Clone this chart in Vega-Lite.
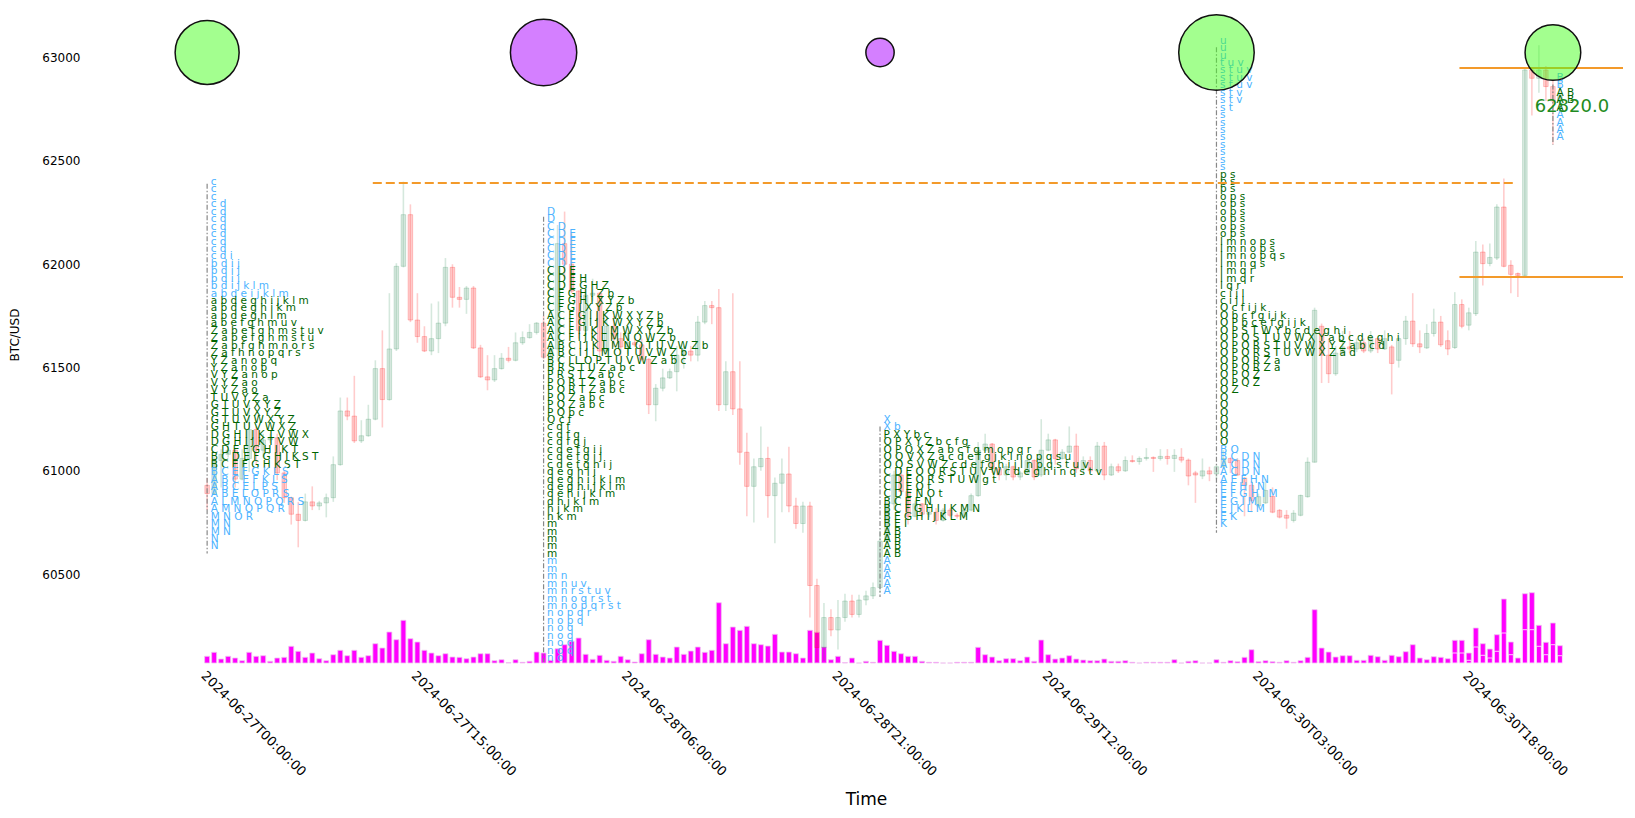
{
"$schema":"https://vega.github.io/schema/vega-lite/v6.json",
"autosize":{"type":"none"},
"width":1524,"height":657,
"padding":{"left":104,"top":6,"right":7,"bottom":155},
"background":"white",
"config":{"view":{"stroke":null},"font":"DejaVu Sans","axis":{"grid":false,"domain":false,"ticks":false,"labelFont":"DejaVu Sans","titleFont":"DejaVu Sans","titleFontWeight":"normal","labelColor":"#000","titleColor":"#000"}},
"datasets":{
"candles":[
{"t":"2024-06-27T00:00Z","o":60930,"h":60965,"l":60810,"c":60890,"v":67},
{"t":"2024-06-27T00:30Z","o":60890,"h":61070,"l":60885,"c":61050,"v":107},
{"t":"2024-06-27T01:00Z","o":61050,"h":61105,"l":60920,"c":61080,"v":40},
{"t":"2024-06-27T01:30Z","o":61080,"h":61180,"l":61065,"c":61100,"v":67},
{"t":"2024-06-27T02:00Z","o":61100,"h":61105,"l":60920,"c":60960,"v":50},
{"t":"2024-06-27T02:30Z","o":60960,"h":61105,"l":60955,"c":61060,"v":23},
{"t":"2024-06-27T03:00Z","o":61060,"h":61320,"l":60995,"c":61200,"v":107},
{"t":"2024-06-27T03:30Z","o":61200,"h":61215,"l":61030,"c":61100,"v":67},
{"t":"2024-06-27T04:00Z","o":61100,"h":61180,"l":61065,"c":61150,"v":73},
{"t":"2024-06-27T04:30Z","o":61150,"h":61180,"l":61135,"c":61160,"v":17},
{"t":"2024-06-27T05:00Z","o":61160,"h":61180,"l":60955,"c":60990,"v":50},
{"t":"2024-06-27T05:30Z","o":60990,"h":61000,"l":60845,"c":60870,"v":57},
{"t":"2024-06-27T06:00Z","o":60870,"h":60875,"l":60740,"c":60790,"v":167},
{"t":"2024-06-27T06:30Z","o":60790,"h":60850,"l":60630,"c":60760,"v":117},
{"t":"2024-06-27T07:00Z","o":60760,"h":60890,"l":60755,"c":60850,"v":57},
{"t":"2024-06-27T07:30Z","o":60850,"h":60925,"l":60810,"c":60830,"v":100},
{"t":"2024-06-27T08:00Z","o":60830,"h":60855,"l":60810,"c":60845,"v":43},
{"t":"2024-06-27T08:30Z","o":60845,"h":60890,"l":60775,"c":60870,"v":23},
{"t":"2024-06-27T09:00Z","o":60870,"h":61070,"l":60850,"c":61030,"v":83},
{"t":"2024-06-27T09:30Z","o":61030,"h":61355,"l":61025,"c":61290,"v":127},
{"t":"2024-06-27T10:00Z","o":61290,"h":61355,"l":61245,"c":61265,"v":73},
{"t":"2024-06-27T10:30Z","o":61265,"h":61460,"l":61135,"c":61145,"v":127},
{"t":"2024-06-27T11:00Z","o":61145,"h":61245,"l":61135,"c":61170,"v":57},
{"t":"2024-06-27T11:30Z","o":61170,"h":61320,"l":61165,"c":61250,"v":73},
{"t":"2024-06-27T12:00Z","o":61250,"h":61535,"l":61245,"c":61495,"v":193},
{"t":"2024-06-27T12:30Z","o":61495,"h":61680,"l":61210,"c":61345,"v":150},
{"t":"2024-06-27T13:00Z","o":61345,"h":61860,"l":61340,"c":61590,"v":310},
{"t":"2024-06-27T13:30Z","o":61590,"h":62005,"l":61580,"c":61990,"v":233},
{"t":"2024-06-27T14:00Z","o":61990,"h":62400,"l":61985,"c":62240,"v":427},
{"t":"2024-06-27T14:30Z","o":62240,"h":62290,"l":61720,"c":61730,"v":243},
{"t":"2024-06-27T15:00Z","o":61730,"h":61860,"l":61620,"c":61650,"v":210},
{"t":"2024-06-27T15:30Z","o":61650,"h":61700,"l":61575,"c":61580,"v":127},
{"t":"2024-06-27T16:00Z","o":61580,"h":61810,"l":61560,"c":61640,"v":100},
{"t":"2024-06-27T16:30Z","o":61640,"h":61820,"l":61570,"c":61715,"v":73},
{"t":"2024-06-27T17:00Z","o":61715,"h":62030,"l":61700,"c":61985,"v":93},
{"t":"2024-06-27T17:30Z","o":61985,"h":62000,"l":61790,"c":61840,"v":60},
{"t":"2024-06-27T18:00Z","o":61840,"h":61890,"l":61790,"c":61830,"v":57},
{"t":"2024-06-27T18:30Z","o":61830,"h":61895,"l":61760,"c":61885,"v":43},
{"t":"2024-06-27T19:00Z","o":61885,"h":61895,"l":61590,"c":61595,"v":60},
{"t":"2024-06-27T19:30Z","o":61595,"h":61610,"l":61450,"c":61455,"v":93},
{"t":"2024-06-27T20:00Z","o":61455,"h":61560,"l":61390,"c":61440,"v":93},
{"t":"2024-06-27T20:30Z","o":61440,"h":61560,"l":61430,"c":61495,"v":23},
{"t":"2024-06-27T21:00Z","o":61495,"h":61570,"l":61490,"c":61545,"v":33},
{"t":"2024-06-27T21:30Z","o":61545,"h":61600,"l":61525,"c":61535,"v":3},
{"t":"2024-06-27T22:00Z","o":61535,"h":61670,"l":61530,"c":61620,"v":33},
{"t":"2024-06-27T22:30Z","o":61620,"h":61675,"l":61610,"c":61645,"v":7},
{"t":"2024-06-27T23:00Z","o":61645,"h":61710,"l":61640,"c":61670,"v":17},
{"t":"2024-06-27T23:30Z","o":61670,"h":61720,"l":61660,"c":61715,"v":110},
{"t":"2024-06-28T00:00Z","o":61715,"h":61750,"l":61540,"c":61550,"v":100},
{"t":"2024-06-28T00:30Z","o":61550,"h":61610,"l":61490,"c":61590,"v":27},
{"t":"2024-06-28T01:00Z","o":61590,"h":62190,"l":61530,"c":62100,"v":143},
{"t":"2024-06-28T01:30Z","o":62100,"h":62255,"l":61930,"c":62000,"v":183},
{"t":"2024-06-28T02:00Z","o":62000,"h":62150,"l":61860,"c":61870,"v":217},
{"t":"2024-06-28T02:30Z","o":61870,"h":61875,"l":61640,"c":61680,"v":250},
{"t":"2024-06-28T03:00Z","o":61680,"h":61890,"l":61675,"c":61850,"v":87},
{"t":"2024-06-28T03:30Z","o":61850,"h":61930,"l":61820,"c":61860,"v":37},
{"t":"2024-06-28T04:00Z","o":61860,"h":61865,"l":61530,"c":61580,"v":77},
{"t":"2024-06-28T04:30Z","o":61580,"h":61750,"l":61565,"c":61700,"v":27},
{"t":"2024-06-28T05:00Z","o":61700,"h":61750,"l":61600,"c":61640,"v":17},
{"t":"2024-06-28T05:30Z","o":61640,"h":61670,"l":61530,"c":61600,"v":67},
{"t":"2024-06-28T06:00Z","o":61600,"h":61670,"l":61565,"c":61620,"v":33},
{"t":"2024-06-28T06:30Z","o":61620,"h":61640,"l":61600,"c":61610,"v":10},
{"t":"2024-06-28T07:00Z","o":61610,"h":61640,"l":61530,"c":61540,"v":93},
{"t":"2024-06-28T07:30Z","o":61540,"h":61545,"l":61275,"c":61320,"v":233},
{"t":"2024-06-28T08:00Z","o":61320,"h":61420,"l":61240,"c":61400,"v":87},
{"t":"2024-06-28T08:30Z","o":61400,"h":61495,"l":61385,"c":61450,"v":60},
{"t":"2024-06-28T09:00Z","o":61450,"h":61495,"l":61445,"c":61480,"v":50},
{"t":"2024-06-28T09:30Z","o":61480,"h":61605,"l":61385,"c":61560,"v":160},
{"t":"2024-06-28T10:00Z","o":61560,"h":61605,"l":61495,"c":61580,"v":87},
{"t":"2024-06-28T10:30Z","o":61580,"h":61605,"l":61530,"c":61560,"v":120},
{"t":"2024-06-28T11:00Z","o":61560,"h":61750,"l":61530,"c":61720,"v":160},
{"t":"2024-06-28T11:30Z","o":61720,"h":61822,"l":61710,"c":61800,"v":107},
{"t":"2024-06-28T12:00Z","o":61800,"h":61822,"l":61710,"c":61790,"v":127},
{"t":"2024-06-28T12:30Z","o":61790,"h":61880,"l":61290,"c":61320,"v":603},
{"t":"2024-06-28T13:00Z","o":61320,"h":61530,"l":61290,"c":61480,"v":193},
{"t":"2024-06-28T13:30Z","o":61480,"h":61860,"l":61270,"c":61300,"v":360},
{"t":"2024-06-28T14:00Z","o":61300,"h":61530,"l":61030,"c":61090,"v":327},
{"t":"2024-06-28T14:30Z","o":61090,"h":61185,"l":60780,"c":60925,"v":367},
{"t":"2024-06-28T15:00Z","o":60925,"h":61060,"l":60750,"c":61020,"v":193},
{"t":"2024-06-28T15:30Z","o":61020,"h":61215,"l":61000,"c":61060,"v":183},
{"t":"2024-06-28T16:00Z","o":61060,"h":61117,"l":60773,"c":60880,"v":170},
{"t":"2024-06-28T16:30Z","o":60880,"h":60968,"l":60650,"c":60940,"v":287},
{"t":"2024-06-28T17:00Z","o":60940,"h":61060,"l":60800,"c":60985,"v":110},
{"t":"2024-06-28T17:30Z","o":60985,"h":61117,"l":60800,"c":60830,"v":110},
{"t":"2024-06-28T18:00Z","o":60830,"h":60870,"l":60720,"c":60745,"v":93},
{"t":"2024-06-28T18:30Z","o":60745,"h":60850,"l":60700,"c":60830,"v":50},
{"t":"2024-06-28T19:00Z","o":60830,"h":60850,"l":60290,"c":60445,"v":327},
{"t":"2024-06-28T19:30Z","o":60445,"h":60478,"l":60075,"c":60145,"v":307},
{"t":"2024-06-28T20:00Z","o":60145,"h":60360,"l":60080,"c":60290,"v":160},
{"t":"2024-06-28T20:30Z","o":60290,"h":60330,"l":60200,"c":60230,"v":33},
{"t":"2024-06-28T21:00Z","o":60230,"h":60375,"l":60135,"c":60290,"v":67},
{"t":"2024-06-28T21:30Z","o":60290,"h":60405,"l":60270,"c":60370,"v":3},
{"t":"2024-06-28T22:00Z","o":60370,"h":60400,"l":60290,"c":60305,"v":50},
{"t":"2024-06-28T22:30Z","o":60305,"h":60400,"l":60290,"c":60375,"v":0},
{"t":"2024-06-28T23:00Z","o":60375,"h":60420,"l":60350,"c":60395,"v":17},
{"t":"2024-06-28T23:30Z","o":60395,"h":60460,"l":60380,"c":60435,"v":7},
{"t":"2024-06-29T00:00Z","o":60435,"h":60710,"l":60410,"c":60660,"v":227},
{"t":"2024-06-29T00:30Z","o":60660,"h":60860,"l":60600,"c":60840,"v":177},
{"t":"2024-06-29T01:00Z","o":60840,"h":61000,"l":60810,"c":60980,"v":117},
{"t":"2024-06-29T01:30Z","o":60980,"h":61000,"l":60880,"c":60900,"v":93},
{"t":"2024-06-29T02:00Z","o":60900,"h":60995,"l":60740,"c":60780,"v":67},
{"t":"2024-06-29T02:30Z","o":60780,"h":60855,"l":60775,"c":60840,"v":67},
{"t":"2024-06-29T03:00Z","o":60840,"h":60845,"l":60775,"c":60790,"v":17},
{"t":"2024-06-29T03:30Z","o":60790,"h":60820,"l":60775,"c":60800,"v":7},
{"t":"2024-06-29T04:00Z","o":60800,"h":60820,"l":60740,"c":60760,"v":7},
{"t":"2024-06-29T04:30Z","o":60760,"h":60820,"l":60755,"c":60810,"v":0},
{"t":"2024-06-29T05:00Z","o":60810,"h":60820,"l":60775,"c":60785,"v":0},
{"t":"2024-06-29T05:30Z","o":60785,"h":60795,"l":60770,"c":60780,"v":7},
{"t":"2024-06-29T06:00Z","o":60780,"h":60820,"l":60775,"c":60810,"v":7},
{"t":"2024-06-29T06:30Z","o":60810,"h":60890,"l":60805,"c":60880,"v":7},
{"t":"2024-06-29T07:00Z","o":60880,"h":61140,"l":60875,"c":61100,"v":157},
{"t":"2024-06-29T07:30Z","o":61100,"h":61180,"l":61095,"c":61130,"v":83},
{"t":"2024-06-29T08:00Z","o":61130,"h":61135,"l":60990,"c":61010,"v":60},
{"t":"2024-06-29T08:30Z","o":61010,"h":61015,"l":60955,"c":60980,"v":23},
{"t":"2024-06-29T09:00Z","o":60980,"h":61035,"l":60955,"c":61020,"v":43},
{"t":"2024-06-29T09:30Z","o":61020,"h":61025,"l":60955,"c":60970,"v":43},
{"t":"2024-06-29T10:00Z","o":60970,"h":61000,"l":60955,"c":60990,"v":23},
{"t":"2024-06-29T10:30Z","o":60990,"h":61070,"l":60985,"c":61050,"v":60},
{"t":"2024-06-29T11:00Z","o":61050,"h":61055,"l":60955,"c":60970,"v":17},
{"t":"2024-06-29T11:30Z","o":60980,"h":61250,"l":60970,"c":61100,"v":230},
{"t":"2024-06-29T12:00Z","o":61100,"h":61180,"l":61095,"c":61150,"v":83},
{"t":"2024-06-29T12:30Z","o":61150,"h":61155,"l":61030,"c":61060,"v":40},
{"t":"2024-06-29T13:00Z","o":61060,"h":61105,"l":61055,"c":61090,"v":50},
{"t":"2024-06-29T13:30Z","o":61090,"h":61215,"l":61085,"c":61120,"v":73},
{"t":"2024-06-29T14:00Z","o":61120,"h":61180,"l":60990,"c":61010,"v":40},
{"t":"2024-06-29T14:30Z","o":61010,"h":61070,"l":60990,"c":61050,"v":30},
{"t":"2024-06-29T15:00Z","o":61050,"h":61070,"l":60990,"c":61000,"v":23},
{"t":"2024-06-29T15:30Z","o":61000,"h":61140,"l":60995,"c":61120,"v":23},
{"t":"2024-06-29T16:00Z","o":61120,"h":61140,"l":60955,"c":60980,"v":40},
{"t":"2024-06-29T16:30Z","o":60980,"h":61035,"l":60975,"c":61020,"v":17},
{"t":"2024-06-29T17:00Z","o":61020,"h":61035,"l":60990,"c":61000,"v":17},
{"t":"2024-06-29T17:30Z","o":61000,"h":61070,"l":60995,"c":61050,"v":23},
{"t":"2024-06-29T18:00Z","o":61050,"h":61075,"l":61040,"c":61045,"v":7},
{"t":"2024-06-29T18:30Z","o":61045,"h":61070,"l":61030,"c":61060,"v":0},
{"t":"2024-06-29T19:00Z","o":61060,"h":61110,"l":61050,"c":61065,"v":7},
{"t":"2024-06-29T19:30Z","o":61065,"h":61070,"l":60995,"c":61060,"v":7},
{"t":"2024-06-29T20:00Z","o":61060,"h":61105,"l":61050,"c":61070,"v":7},
{"t":"2024-06-29T20:30Z","o":61070,"h":61105,"l":61030,"c":61060,"v":7},
{"t":"2024-06-29T21:00Z","o":61060,"h":61105,"l":60995,"c":61075,"v":33},
{"t":"2024-06-29T21:30Z","o":61066,"h":61110,"l":61040,"c":61052,"v":0},
{"t":"2024-06-29T22:00Z","o":61052,"h":61060,"l":60930,"c":60975,"v":17},
{"t":"2024-06-29T22:30Z","o":60990,"h":61000,"l":60845,"c":60980,"v":23},
{"t":"2024-06-29T23:00Z","o":60975,"h":61060,"l":60960,"c":61000,"v":0},
{"t":"2024-06-29T23:30Z","o":61000,"h":61020,"l":60950,"c":60985,"v":0},
{"t":"2024-06-30T00:00Z","o":60985,"h":61030,"l":60960,"c":61020,"v":33},
{"t":"2024-06-30T00:30Z","o":61020,"h":61100,"l":61015,"c":61060,"v":7},
{"t":"2024-06-30T01:00Z","o":61060,"h":61065,"l":60990,"c":61040,"v":23},
{"t":"2024-06-30T01:30Z","o":61050,"h":61060,"l":60975,"c":60980,"v":13},
{"t":"2024-06-30T02:00Z","o":60965,"h":60970,"l":60780,"c":60930,"v":57},
{"t":"2024-06-30T02:30Z","o":60930,"h":60950,"l":60800,"c":60855,"v":133},
{"t":"2024-06-30T03:00Z","o":60830,"h":60890,"l":60820,"c":60875,"v":13},
{"t":"2024-06-30T03:30Z","o":60845,"h":60960,"l":60840,"c":60905,"v":23},
{"t":"2024-06-30T04:00Z","o":60876,"h":60920,"l":60795,"c":60800,"v":13},
{"t":"2024-06-30T04:30Z","o":60809,"h":60815,"l":60770,"c":60776,"v":7},
{"t":"2024-06-30T05:00Z","o":60785,"h":60810,"l":60720,"c":60771,"v":23},
{"t":"2024-06-30T05:30Z","o":60760,"h":60810,"l":60750,"c":60795,"v":7},
{"t":"2024-06-30T06:00Z","o":60785,"h":60885,"l":60780,"c":60881,"v":23},
{"t":"2024-06-30T06:30Z","o":60875,"h":61065,"l":60870,"c":61042,"v":57},
{"t":"2024-06-30T07:00Z","o":61042,"h":61790,"l":61040,"c":61777,"v":533},
{"t":"2024-06-30T07:30Z","o":61700,"h":61713,"l":61425,"c":61560,"v":150},
{"t":"2024-06-30T08:00Z","o":61560,"h":61640,"l":61425,"c":61470,"v":110},
{"t":"2024-06-30T08:30Z","o":61470,"h":61605,"l":61460,"c":61570,"v":60},
{"t":"2024-06-30T09:00Z","o":61570,"h":61677,"l":61560,"c":61600,"v":73},
{"t":"2024-06-30T09:30Z","o":61600,"h":61677,"l":61570,"c":61590,"v":73},
{"t":"2024-06-30T10:00Z","o":61590,"h":61641,"l":61575,"c":61620,"v":27},
{"t":"2024-06-30T10:30Z","o":61620,"h":61641,"l":61570,"c":61580,"v":27},
{"t":"2024-06-30T11:00Z","o":61580,"h":61677,"l":61570,"c":61640,"v":77},
{"t":"2024-06-30T11:30Z","o":61640,"h":61645,"l":61570,"c":61590,"v":63},
{"t":"2024-06-30T12:00Z","o":61590,"h":61680,"l":61585,"c":61640,"v":27},
{"t":"2024-06-30T12:30Z","o":61600,"h":61610,"l":61370,"c":61520,"v":77},
{"t":"2024-06-30T13:00Z","o":61535,"h":61645,"l":61500,"c":61640,"v":63},
{"t":"2024-06-30T13:30Z","o":61640,"h":61750,"l":61610,"c":61725,"v":113},
{"t":"2024-06-30T14:00Z","o":61725,"h":61860,"l":61600,"c":61615,"v":183},
{"t":"2024-06-30T14:30Z","o":61615,"h":61680,"l":61570,"c":61600,"v":50},
{"t":"2024-06-30T15:00Z","o":61595,"h":61710,"l":61590,"c":61665,"v":33},
{"t":"2024-06-30T15:30Z","o":61665,"h":61785,"l":61650,"c":61720,"v":63},
{"t":"2024-06-30T16:00Z","o":61720,"h":61750,"l":61600,"c":61610,"v":57},
{"t":"2024-06-30T16:30Z","o":61630,"h":61680,"l":61560,"c":61590,"v":43},
{"t":"2024-06-30T17:00Z","o":61597,"h":61865,"l":61590,"c":61805,"v":227,"v2":100},
{"t":"2024-06-30T17:30Z","o":61805,"h":61830,"l":61690,"c":61700,"v":227,"v2":100},
{"t":"2024-06-30T18:00Z","o":61705,"h":61790,"l":61680,"c":61765,"v":100,"v2":27},
{"t":"2024-06-30T18:30Z","o":61761,"h":62112,"l":61750,"c":62059,"v":350,"v2":160},
{"t":"2024-06-30T19:00Z","o":62059,"h":62096,"l":61897,"c":62003,"v":193,"v2":77},
{"t":"2024-06-30T19:30Z","o":62004,"h":62100,"l":61990,"c":62033,"v":140,"v2":50},
{"t":"2024-06-30T20:00Z","o":62030,"h":62290,"l":62020,"c":62277,"v":283,"v2":117},
{"t":"2024-06-30T20:30Z","o":62277,"h":62415,"l":61985,"c":61990,"v":640,"v2":300},
{"t":"2024-06-30T21:00Z","o":61995,"h":62019,"l":61860,"c":61951,"v":210,"v2":83},
{"t":"2024-06-30T21:30Z","o":61955,"h":61960,"l":61841,"c":61946,"v":50},
{"t":"2024-06-30T22:00Z","o":61946,"h":62955,"l":61940,"c":62940,"v":693,"v2":333},
{"t":"2024-06-30T22:30Z","o":62940,"h":62950,"l":62720,"c":62900,"v":703,"v2":333},
{"t":"2024-06-30T23:00Z","o":62900,"h":63060,"l":62830,"c":62940,"v":377,"v2":167},
{"t":"2024-06-30T23:30Z","o":62940,"h":62960,"l":62790,"c":62860,"v":207,"v2":83},
{"t":"2024-07-01T00:00Z","o":62860,"h":62890,"l":62580,"c":62790,"v":400,"v2":183},
{"t":"2024-07-01T00:30Z","o":62790,"h":62910,"l":62785,"c":62820,"v":173,"v2":73}
],
"tpo":[
{"t":"2024-06-27T00:00Z","p":62398,"s":"c","a":"out"},
{"t":"2024-06-27T00:00Z","p":62362,"s":"c","a":"out"},
{"t":"2024-06-27T00:00Z","p":62326,"s":"c","a":"out"},
{"t":"2024-06-27T00:00Z","p":62290,"s":"c d","a":"out"},
{"t":"2024-06-27T00:00Z","p":62254,"s":"c d","a":"out"},
{"t":"2024-06-27T00:00Z","p":62218,"s":"c d","a":"out"},
{"t":"2024-06-27T00:00Z","p":62182,"s":"c d","a":"out"},
{"t":"2024-06-27T00:00Z","p":62146,"s":"c d","a":"out"},
{"t":"2024-06-27T00:00Z","p":62110,"s":"c d","a":"out"},
{"t":"2024-06-27T00:00Z","p":62074,"s":"c d","a":"out"},
{"t":"2024-06-27T00:00Z","p":62038,"s":"c d i","a":"out"},
{"t":"2024-06-27T00:00Z","p":62002,"s":"b d i j","a":"out"},
{"t":"2024-06-27T00:00Z","p":61966,"s":"b d i j","a":"out"},
{"t":"2024-06-27T00:00Z","p":61930,"s":"b d i j","a":"out"},
{"t":"2024-06-27T00:00Z","p":61894,"s":"b d i j k l m","a":"out"},
{"t":"2024-06-27T00:00Z","p":61858,"s":"a b d e i j k l m","a":"out"},
{"t":"2024-06-27T00:00Z","p":61822,"s":"a b d e g h i j k l m","a":"in"},
{"t":"2024-06-27T00:00Z","p":61786,"s":"a b d e g h i k m","a":"in"},
{"t":"2024-06-27T00:00Z","p":61750,"s":"a b d e g h l m","a":"in"},
{"t":"2024-06-27T00:00Z","p":61714,"s":"a b e f g h m u v","a":"in"},
{"t":"2024-06-27T00:00Z","p":61678,"s":"Z a b e f g h m s t u v","a":"in"},
{"t":"2024-06-27T00:00Z","p":61642,"s":"Z a b e f g h m s t u","a":"in"},
{"t":"2024-06-27T00:00Z","p":61606,"s":"Z a b f g h m n o r s","a":"in"},
{"t":"2024-06-27T00:00Z","p":61570,"s":"Z a f h n o p q r s","a":"in"},
{"t":"2024-06-27T00:00Z","p":61534,"s":"Y Z a n o p q","a":"in"},
{"t":"2024-06-27T00:00Z","p":61498,"s":"Y Z a n o p","a":"in"},
{"t":"2024-06-27T00:00Z","p":61462,"s":"V Y Z a n o p","a":"in"},
{"t":"2024-06-27T00:00Z","p":61426,"s":"V Y Z a o","a":"in"},
{"t":"2024-06-27T00:00Z","p":61390,"s":"V Y Z a o","a":"in"},
{"t":"2024-06-27T00:00Z","p":61354,"s":"T U V Y Z a","a":"in"},
{"t":"2024-06-27T00:00Z","p":61318,"s":"G T U V X Y Z","a":"in"},
{"t":"2024-06-27T00:00Z","p":61282,"s":"G T U V X Y Z","a":"in"},
{"t":"2024-06-27T00:00Z","p":61246,"s":"G T U V W X Y Z","a":"in"},
{"t":"2024-06-27T00:00Z","p":61210,"s":"G H T U V W X Z","a":"in"},
{"t":"2024-06-27T00:00Z","p":61174,"s":"D G H I J K T V W X","a":"in"},
{"t":"2024-06-27T00:00Z","p":61138,"s":"D G H I J K T V W","a":"in"},
{"t":"2024-06-27T00:00Z","p":61102,"s":"C D E F G H I K T","a":"in"},
{"t":"2024-06-27T00:00Z","p":61066,"s":"B C D E F G H I K S T","a":"in"},
{"t":"2024-06-27T00:00Z","p":61030,"s":"B C E F G H K S T","a":"in"},
{"t":"2024-06-27T00:00Z","p":60994,"s":"B C E F G K L S","a":"out"},
{"t":"2024-06-27T00:00Z","p":60958,"s":"A B C E F K L S","a":"out"},
{"t":"2024-06-27T00:00Z","p":60922,"s":"A B C E L P S","a":"out"},
{"t":"2024-06-27T00:00Z","p":60886,"s":"A B E L O P R S","a":"out"},
{"t":"2024-06-27T00:00Z","p":60850,"s":"A L M N O P Q R S","a":"out"},
{"t":"2024-06-27T00:00Z","p":60814,"s":"A M N O P Q R","a":"out"},
{"t":"2024-06-27T00:00Z","p":60778,"s":"M N O R","a":"out"},
{"t":"2024-06-27T00:00Z","p":60742,"s":"M N","a":"out"},
{"t":"2024-06-27T00:00Z","p":60706,"s":"M N","a":"out"},
{"t":"2024-06-27T00:00Z","p":60670,"s":"N","a":"out"},
{"t":"2024-06-27T00:00Z","p":60634,"s":"N","a":"out"},
{"t":"2024-06-28T00:00Z","p":62254,"s":"D","a":"out"},
{"t":"2024-06-28T00:00Z","p":62218,"s":"D","a":"out"},
{"t":"2024-06-28T00:00Z","p":62182,"s":"C D","a":"out"},
{"t":"2024-06-28T00:00Z","p":62146,"s":"C D E","a":"out"},
{"t":"2024-06-28T00:00Z","p":62110,"s":"C D E","a":"out"},
{"t":"2024-06-28T00:00Z","p":62074,"s":"C D E","a":"out"},
{"t":"2024-06-28T00:00Z","p":62038,"s":"C D E","a":"out"},
{"t":"2024-06-28T00:00Z","p":62002,"s":"C D E","a":"out"},
{"t":"2024-06-28T00:00Z","p":61966,"s":"C D E","a":"in"},
{"t":"2024-06-28T00:00Z","p":61930,"s":"C D E H","a":"in"},
{"t":"2024-06-28T00:00Z","p":61894,"s":"C D E G H Z","a":"in"},
{"t":"2024-06-28T00:00Z","p":61858,"s":"C E G H I Z b","a":"in"},
{"t":"2024-06-28T00:00Z","p":61822,"s":"C E G H I X Y Z b","a":"in"},
{"t":"2024-06-28T00:00Z","p":61786,"s":"C F G I X Y Z b","a":"in"},
{"t":"2024-06-28T00:00Z","p":61750,"s":"A C F G I J K W X Y Z b","a":"in"},
{"t":"2024-06-28T00:00Z","p":61714,"s":"A C F G I J K W X Y Z b","a":"in"},
{"t":"2024-06-28T00:00Z","p":61678,"s":"A C F I J K L M W X Y Z b","a":"in"},
{"t":"2024-06-28T00:00Z","p":61642,"s":"A C F I J K L M N O W Z b","a":"in"},
{"t":"2024-06-28T00:00Z","p":61606,"s":"A B C I J K L M N O T U V W Z b","a":"in"},
{"t":"2024-06-28T00:00Z","p":61570,"s":"A B C I J L M O T U V W Z b","a":"in"},
{"t":"2024-06-28T00:00Z","p":61534,"s":"B C I L O P T U V W Z a b c","a":"in"},
{"t":"2024-06-28T00:00Z","p":61498,"s":"B R S T U Z a b c","a":"in"},
{"t":"2024-06-28T00:00Z","p":61462,"s":"P R S T Z a b c","a":"in"},
{"t":"2024-06-28T00:00Z","p":61426,"s":"P Q R T Z a b c","a":"in"},
{"t":"2024-06-28T00:00Z","p":61390,"s":"P Q R T Z a b c","a":"in"},
{"t":"2024-06-28T00:00Z","p":61354,"s":"P Q Z a b c","a":"in"},
{"t":"2024-06-28T00:00Z","p":61318,"s":"P Q Z a b c","a":"in"},
{"t":"2024-06-28T00:00Z","p":61282,"s":"P Q b c","a":"in"},
{"t":"2024-06-28T00:00Z","p":61246,"s":"Q c f","a":"in"},
{"t":"2024-06-28T00:00Z","p":61210,"s":"c d f","a":"in"},
{"t":"2024-06-28T00:00Z","p":61174,"s":"c d f g","a":"in"},
{"t":"2024-06-28T00:00Z","p":61138,"s":"c d f g j","a":"in"},
{"t":"2024-06-28T00:00Z","p":61102,"s":"c d e f g i j","a":"in"},
{"t":"2024-06-28T00:00Z","p":61066,"s":"c d e f g i j","a":"in"},
{"t":"2024-06-28T00:00Z","p":61030,"s":"c d e f g h i j","a":"in"},
{"t":"2024-06-28T00:00Z","p":60994,"s":"d e g h i j","a":"in"},
{"t":"2024-06-28T00:00Z","p":60958,"s":"d e g h i j k l m","a":"in"},
{"t":"2024-06-28T00:00Z","p":60922,"s":"d e g h i j k l m","a":"in"},
{"t":"2024-06-28T00:00Z","p":60886,"s":"d e h i j k l m","a":"in"},
{"t":"2024-06-28T00:00Z","p":60850,"s":"d h j k l m","a":"in"},
{"t":"2024-06-28T00:00Z","p":60814,"s":"h j k m","a":"in"},
{"t":"2024-06-28T00:00Z","p":60778,"s":"h k m","a":"in"},
{"t":"2024-06-28T00:00Z","p":60742,"s":"m","a":"in"},
{"t":"2024-06-28T00:00Z","p":60706,"s":"m","a":"in"},
{"t":"2024-06-28T00:00Z","p":60670,"s":"m","a":"in"},
{"t":"2024-06-28T00:00Z","p":60634,"s":"m","a":"in"},
{"t":"2024-06-28T00:00Z","p":60598,"s":"m","a":"in"},
{"t":"2024-06-28T00:00Z","p":60562,"s":"m","a":"out"},
{"t":"2024-06-28T00:00Z","p":60526,"s":"m","a":"out"},
{"t":"2024-06-28T00:00Z","p":60490,"s":"m n","a":"out"},
{"t":"2024-06-28T00:00Z","p":60454,"s":"m n u v","a":"out"},
{"t":"2024-06-28T00:00Z","p":60418,"s":"m n r s t u v","a":"out"},
{"t":"2024-06-28T00:00Z","p":60382,"s":"m n o q r s t","a":"out"},
{"t":"2024-06-28T00:00Z","p":60346,"s":"m n o p q r s t","a":"out"},
{"t":"2024-06-28T00:00Z","p":60310,"s":"n o p q r","a":"out"},
{"t":"2024-06-28T00:00Z","p":60274,"s":"n o p q","a":"out"},
{"t":"2024-06-28T00:00Z","p":60238,"s":"n o q","a":"out"},
{"t":"2024-06-28T00:00Z","p":60202,"s":"n o q","a":"out"},
{"t":"2024-06-28T00:00Z","p":60166,"s":"n o q","a":"out"},
{"t":"2024-06-28T00:00Z","p":60130,"s":"n o q","a":"out"},
{"t":"2024-06-28T00:00Z","p":60094,"s":"n o","a":"out"},
{"t":"2024-06-29T00:00Z","p":61246,"s":"X","a":"out"},
{"t":"2024-06-29T00:00Z","p":61210,"s":"X b","a":"out"},
{"t":"2024-06-29T00:00Z","p":61174,"s":"P X Y b c","a":"in"},
{"t":"2024-06-29T00:00Z","p":61138,"s":"O P X Y Z b c f g","a":"in"},
{"t":"2024-06-29T00:00Z","p":61102,"s":"O P Q X Z a b c f g m o p q r","a":"in"},
{"t":"2024-06-29T00:00Z","p":61066,"s":"O Q V X Z a c d e f g j k l n o p q s u","a":"in"},
{"t":"2024-06-29T00:00Z","p":61030,"s":"O Q S V W Z c d e f g h i j l n p q s t u v","a":"in"},
{"t":"2024-06-29T00:00Z","p":60994,"s":"C D E O Q R S T U V W c d e g h i n q s t v","a":"in"},
{"t":"2024-06-29T00:00Z","p":60958,"s":"C D E O R S T U W g t","a":"in"},
{"t":"2024-06-29T00:00Z","p":60922,"s":"C D E O t","a":"in"},
{"t":"2024-06-29T00:00Z","p":60886,"s":"C D E N O t","a":"in"},
{"t":"2024-06-29T00:00Z","p":60850,"s":"B C E F N","a":"in"},
{"t":"2024-06-29T00:00Z","p":60814,"s":"B C F G H I J K M N","a":"in"},
{"t":"2024-06-29T00:00Z","p":60778,"s":"B E G H I J K L M","a":"in"},
{"t":"2024-06-29T00:00Z","p":60742,"s":"B E I","a":"in"},
{"t":"2024-06-29T00:00Z","p":60706,"s":"A B","a":"in"},
{"t":"2024-06-29T00:00Z","p":60670,"s":"A B","a":"in"},
{"t":"2024-06-29T00:00Z","p":60634,"s":"A B","a":"in"},
{"t":"2024-06-29T00:00Z","p":60598,"s":"A B","a":"in"},
{"t":"2024-06-29T00:00Z","p":60562,"s":"A","a":"out"},
{"t":"2024-06-29T00:00Z","p":60526,"s":"A","a":"out"},
{"t":"2024-06-29T00:00Z","p":60490,"s":"A","a":"out"},
{"t":"2024-06-29T00:00Z","p":60454,"s":"A","a":"out"},
{"t":"2024-06-29T00:00Z","p":60418,"s":"A","a":"out"},
{"t":"2024-06-30T00:00Z","p":63082,"s":"u","a":"out"},
{"t":"2024-06-30T00:00Z","p":63046,"s":"u","a":"out"},
{"t":"2024-06-30T00:00Z","p":63010,"s":"u","a":"out"},
{"t":"2024-06-30T00:00Z","p":62974,"s":"t u v","a":"out"},
{"t":"2024-06-30T00:00Z","p":62938,"s":"s t u v","a":"out"},
{"t":"2024-06-30T00:00Z","p":62902,"s":"s t u v","a":"out"},
{"t":"2024-06-30T00:00Z","p":62866,"s":"s t u v","a":"out"},
{"t":"2024-06-30T00:00Z","p":62830,"s":"s t v","a":"out"},
{"t":"2024-06-30T00:00Z","p":62794,"s":"s t v","a":"out"},
{"t":"2024-06-30T00:00Z","p":62758,"s":"s t","a":"out"},
{"t":"2024-06-30T00:00Z","p":62722,"s":"s","a":"out"},
{"t":"2024-06-30T00:00Z","p":62686,"s":"s","a":"out"},
{"t":"2024-06-30T00:00Z","p":62650,"s":"s","a":"out"},
{"t":"2024-06-30T00:00Z","p":62614,"s":"s","a":"out"},
{"t":"2024-06-30T00:00Z","p":62578,"s":"s","a":"out"},
{"t":"2024-06-30T00:00Z","p":62542,"s":"s","a":"out"},
{"t":"2024-06-30T00:00Z","p":62506,"s":"s","a":"out"},
{"t":"2024-06-30T00:00Z","p":62470,"s":"s","a":"out"},
{"t":"2024-06-30T00:00Z","p":62434,"s":"p s","a":"in"},
{"t":"2024-06-30T00:00Z","p":62398,"s":"p s","a":"in"},
{"t":"2024-06-30T00:00Z","p":62362,"s":"p s","a":"in"},
{"t":"2024-06-30T00:00Z","p":62326,"s":"o p s","a":"in"},
{"t":"2024-06-30T00:00Z","p":62290,"s":"o p s","a":"in"},
{"t":"2024-06-30T00:00Z","p":62254,"s":"o p s","a":"in"},
{"t":"2024-06-30T00:00Z","p":62218,"s":"o p s","a":"in"},
{"t":"2024-06-30T00:00Z","p":62182,"s":"o p s","a":"in"},
{"t":"2024-06-30T00:00Z","p":62146,"s":"o p s","a":"in"},
{"t":"2024-06-30T00:00Z","p":62110,"s":"l m n o p s","a":"in"},
{"t":"2024-06-30T00:00Z","p":62074,"s":"l m n o p s","a":"in"},
{"t":"2024-06-30T00:00Z","p":62038,"s":"l m n o p q s","a":"in"},
{"t":"2024-06-30T00:00Z","p":62002,"s":"l m n q s","a":"in"},
{"t":"2024-06-30T00:00Z","p":61966,"s":"l m q r","a":"in"},
{"t":"2024-06-30T00:00Z","p":61930,"s":"l m q r","a":"in"},
{"t":"2024-06-30T00:00Z","p":61894,"s":"l q r","a":"in"},
{"t":"2024-06-30T00:00Z","p":61858,"s":"c i j l","a":"in"},
{"t":"2024-06-30T00:00Z","p":61822,"s":"c i j l","a":"in"},
{"t":"2024-06-30T00:00Z","p":61786,"s":"O c f i j k","a":"in"},
{"t":"2024-06-30T00:00Z","p":61750,"s":"O b c f g i j k","a":"in"},
{"t":"2024-06-30T00:00Z","p":61714,"s":"O P b c e f g i j k","a":"in"},
{"t":"2024-06-30T00:00Z","p":61678,"s":"O P S T W Y b c d e g h i","a":"in"},
{"t":"2024-06-30T00:00Z","p":61642,"s":"O P Q S T U V W X Y a b c d e g h i","a":"in"},
{"t":"2024-06-30T00:00Z","p":61606,"s":"O P Q R S T U V W X Y Z a b c d","a":"in"},
{"t":"2024-06-30T00:00Z","p":61570,"s":"O P Q R S T U V W X Z a d","a":"in"},
{"t":"2024-06-30T00:00Z","p":61534,"s":"O P Q R Z a","a":"in"},
{"t":"2024-06-30T00:00Z","p":61498,"s":"O P Q R Z a","a":"in"},
{"t":"2024-06-30T00:00Z","p":61462,"s":"O P Q Z","a":"in"},
{"t":"2024-06-30T00:00Z","p":61426,"s":"O P Q Z","a":"in"},
{"t":"2024-06-30T00:00Z","p":61390,"s":"O Z","a":"in"},
{"t":"2024-06-30T00:00Z","p":61354,"s":"O","a":"in"},
{"t":"2024-06-30T00:00Z","p":61318,"s":"O","a":"in"},
{"t":"2024-06-30T00:00Z","p":61282,"s":"O","a":"in"},
{"t":"2024-06-30T00:00Z","p":61246,"s":"O","a":"in"},
{"t":"2024-06-30T00:00Z","p":61210,"s":"O","a":"in"},
{"t":"2024-06-30T00:00Z","p":61174,"s":"O","a":"in"},
{"t":"2024-06-30T00:00Z","p":61138,"s":"O","a":"in"},
{"t":"2024-06-30T00:00Z","p":61102,"s":"B O","a":"out"},
{"t":"2024-06-30T00:00Z","p":61066,"s":"B C D N","a":"out"},
{"t":"2024-06-30T00:00Z","p":61030,"s":"A C D N","a":"out"},
{"t":"2024-06-30T00:00Z","p":60994,"s":"A C D N","a":"out"},
{"t":"2024-06-30T00:00Z","p":60958,"s":"A E F H N","a":"out"},
{"t":"2024-06-30T00:00Z","p":60922,"s":"E F H I N","a":"out"},
{"t":"2024-06-30T00:00Z","p":60886,"s":"E F G H I M","a":"out"},
{"t":"2024-06-30T00:00Z","p":60850,"s":"E G I M","a":"out"},
{"t":"2024-06-30T00:00Z","p":60814,"s":"E J K L M","a":"out"},
{"t":"2024-06-30T00:00Z","p":60778,"s":"E K","a":"out"},
{"t":"2024-06-30T00:00Z","p":60742,"s":"K","a":"out"},
{"t":"2024-07-01T00:00Z","p":62902,"s":"B","a":"out"},
{"t":"2024-07-01T00:00Z","p":62866,"s":"B","a":"out"},
{"t":"2024-07-01T00:00Z","p":62830,"s":"A B","a":"in"},
{"t":"2024-07-01T00:00Z","p":62794,"s":"A B","a":"in"},
{"t":"2024-07-01T00:00Z","p":62758,"s":"A","a":"in"},
{"t":"2024-07-01T00:00Z","p":62722,"s":"A","a":"out"},
{"t":"2024-07-01T00:00Z","p":62686,"s":"A","a":"out"},
{"t":"2024-07-01T00:00Z","p":62650,"s":"A","a":"out"},
{"t":"2024-07-01T00:00Z","p":62614,"s":"A","a":"out"}
],
"prof":[
{"t":"2024-06-27T00:00Z","top":62390,"bot":60600},
{"t":"2024-06-28T00:00Z","top":62230,"bot":60075},
{"t":"2024-06-29T00:00Z","top":61215,"bot":60390},
{"t":"2024-06-30T00:00Z","top":63050,"bot":60700},
{"t":"2024-07-01T00:00Z","top":62870,"bot":62580}
],
"levels":[
{"t":"2024-06-27T11:49Z","t2":"2024-06-30T21:15Z","p":62393,"k":"dash"},
{"t":"2024-06-30T17:20Z","t2":"2024-07-01T05:00Z","p":62950,"k":"solid"},
{"t":"2024-06-30T17:20Z","t2":"2024-07-01T05:00Z","p":61938,"k":"solid"}
],
"circles":[
{"t":"2024-06-27T00:00Z","p":63025,"dir":"up","w":41},
{"t":"2024-06-28T00:00Z","p":63025,"dir":"down","w":44},
{"t":"2024-06-29T00:00Z","p":63025,"dir":"down","w":8},
{"t":"2024-06-30T00:00Z","p":63025,"dir":"up","w":57},
{"t":"2024-07-01T00:00Z","p":63025,"dir":"up","w":31}
],
"last":[{"t":"2024-07-01T00:30Z","p":62820}]
},
"encoding":{"x":{"field":"t","type":"temporal","title":"Time","scale":{"type":"utc","domain":[1719421200000,1719810000000]},
"axis":{"values":[1719446400000,1719500400000,1719554400000,1719608400000,1719662400000,1719716400000,1719770400000],"format":"%Y-%m-%dT%H:%M:%S","labelAngle":45,"labelAlign":"left","labelBaseline":"top","labelFontSize":13,"labelPadding":6,"labelOverlap":false,"titleFontSize":17,"titlePadding":13}}},
"layer":[
{"data":{"name":"candles"},"layer":[
{"mark":{"type":"bar","size":5,"fill":"#ff00ff","stroke":"#f0c4f0","strokeWidth":0.8},"encoding":{"y":{"field":"v","type":"quantitative","scale":{"domain":[0,6570]},"axis":null}}},
{"mark":{"type":"bar","size":5,"fill":"#ff00ff","stroke":"#ffffff","strokeWidth":0.8},"encoding":{"y":{"field":"v2","type":"quantitative","scale":{"domain":[0,6570]},"axis":null}}}
]},
{"layer":[
{"data":{"name":"candles"},"mark":{"type":"rule","strokeWidth":1.6,"opacity":0.2},"encoding":{"y":{"field":"l","type":"quantitative","title":"BTC/USD","scale":{"domain":[60070,63250],"nice":false,"zero":false},"axis":{"orient":"left","values":[60500,61000,61500,62000,62500,63000],"format":"d","labelFontSize":12,"labelPadding":24,"titleFontSize":12,"titlePadding":20}},"y2":{"field":"h"},"color":{"condition":{"test":"datum.c >= datum.o","value":"#2e8b57"},"value":"#ff0000"}}},
{"data":{"name":"candles"},"mark":{"type":"bar","size":4.5,"fillOpacity":0.17,"strokeOpacity":0.22,"strokeWidth":1},"encoding":{"y":{"field":"o","type":"quantitative","title":"BTC/USD","scale":{"domain":[60070,63250],"nice":false,"zero":false},"axis":{"orient":"left","values":[60500,61000,61500,62000,62500,63000],"format":"d","labelFontSize":12,"labelPadding":24,"titleFontSize":12,"titlePadding":20}},"y2":{"field":"c"},"fill":{"condition":{"test":"datum.c >= datum.o","value":"#2e8b57"},"value":"#ff0000"},"stroke":{"condition":{"test":"datum.c >= datum.o","value":"#2e8b57"},"value":"#ff0000"}}},
{"data":{"name":"prof"},"mark":{"type":"rule","color":"#888888","strokeDash":[5,2,1.5,2],"strokeWidth":1.2},"encoding":{"y":{"field":"top","type":"quantitative","title":"BTC/USD","scale":{"domain":[60070,63250],"nice":false,"zero":false},"axis":{"orient":"left","values":[60500,61000,61500,62000,62500,63000],"format":"d","labelFontSize":12,"labelPadding":24,"titleFontSize":12,"titlePadding":20}},"y2":{"field":"bot"}}},
{"data":{"name":"tpo"},"mark":{"type":"text","align":"left","baseline":"middle","dx":3.5,"fontSize":10.5,"font":"DejaVu Sans"},"encoding":{"y":{"field":"p","type":"quantitative","title":"BTC/USD","scale":{"domain":[60070,63250],"nice":false,"zero":false},"axis":{"orient":"left","values":[60500,61000,61500,62000,62500,63000],"format":"d","labelFontSize":12,"labelPadding":24,"titleFontSize":12,"titlePadding":20}},"text":{"field":"s"},"color":{"field":"a","type":"nominal","scale":{"domain":["in","out"],"range":["#006400","#4db3ff"]},"legend":null}}},
{"data":{"name":"levels"},"mark":{"type":"rule","color":"#f39a2a","strokeWidth":2},"encoding":{"y":{"field":"p","type":"quantitative","title":"BTC/USD","scale":{"domain":[60070,63250],"nice":false,"zero":false},"axis":{"orient":"left","values":[60500,61000,61500,62000,62500,63000],"format":"d","labelFontSize":12,"labelPadding":24,"titleFontSize":12,"titlePadding":20}},"x2":{"field":"t2"},"strokeDash":{"field":"k","type":"nominal","scale":{"domain":["dash","solid"],"range":[[9,4],[1,0]]},"legend":null}}},
{"data":{"name":"circles"},"mark":{"type":"circle","opacity":1,"fillOpacity":0.5,"stroke":"#111111","strokeWidth":1.5},"encoding":{"y":{"field":"p","type":"quantitative","title":"BTC/USD","scale":{"domain":[60070,63250],"nice":false,"zero":false},"axis":{"orient":"left","values":[60500,61000,61500,62000,62500,63000],"format":"d","labelFontSize":12,"labelPadding":24,"titleFontSize":12,"titlePadding":20}},"size":{"field":"w","type":"quantitative","scale":{"type":"linear","domain":[0,100],"range":[0,10000]},"legend":null},"fill":{"field":"dir","type":"nominal","scale":{"domain":["up","down"],"range":["#47ff1f","#aa00ff"]},"legend":null}}},
{"data":{"name":"last"},"mark":{"type":"text","fontSize":18,"font":"DejaVu Sans","align":"center","baseline":"top","dx":12,"dy":3,"color":"#228b22"},"encoding":{"y":{"field":"p","type":"quantitative","title":"BTC/USD","scale":{"domain":[60070,63250],"nice":false,"zero":false},"axis":{"orient":"left","values":[60500,61000,61500,62000,62500,63000],"format":"d","labelFontSize":12,"labelPadding":24,"titleFontSize":12,"titlePadding":20}},"text":{"field":"p","type":"quantitative","format":".1f"}}}
],
"resolve":{"scale":{"color":"independent","fill":"independent","stroke":"independent"}}}
],
"resolve":{"scale":{"y":"independent"}}
}
